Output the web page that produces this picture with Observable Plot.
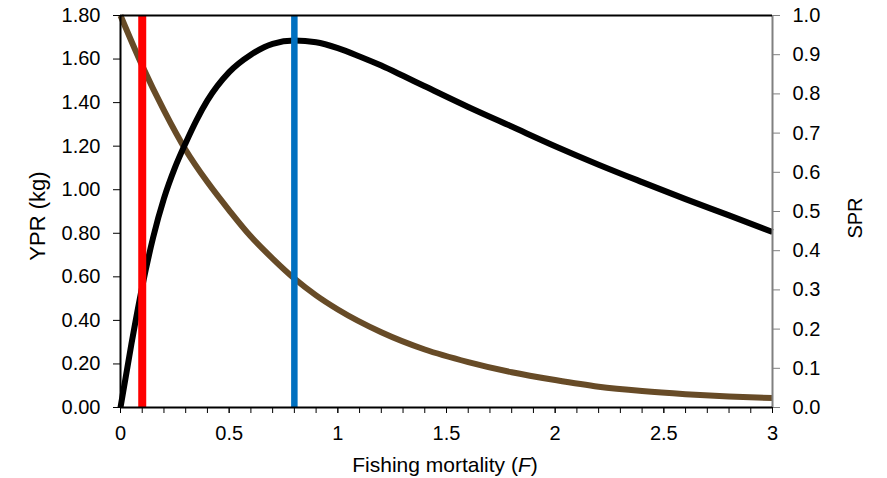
<!DOCTYPE html>
<html>
<head>
<meta charset="utf-8">
<script src="https://cdn.jsdelivr.net/npm/d3@7"></script>
<script src="https://cdn.jsdelivr.net/npm/@observablehq/plot@0.6"></script>
<style>
  html, body { margin: 0; padding: 0; background: #fff; }
  #chart svg { display: block; font-family: "Liberation Sans", Arial, sans-serif; }
</style>
</head>
<body>
<div id="chart"></div>
<script>
// Fishing mortality values for the YPR curve and YPR (kg)
const yprF = [0, 0.05, 0.1, 0.15, 0.2, 0.25, 0.3, 0.35, 0.4, 0.5, 0.6, 0.7, 0.8, 0.9, 1.0, 1.1, 1.2, 1.3, 1.4, 1.6, 1.8, 2.0, 2.2, 2.4, 2.6, 2.8, 3.0];
const yprValues = [0, 0.29, 0.555, 0.78, 0.96, 1.10, 1.215, 1.32, 1.41, 1.54, 1.62, 1.67, 1.685, 1.677, 1.65, 1.612, 1.57, 1.523, 1.475, 1.38, 1.29, 1.20, 1.115, 1.035, 0.957, 0.882, 0.806];
// Fishing mortality values for the SPR curve and SPR
const sprF = [0, 0.1, 0.2, 0.3, 0.4, 0.5, 0.6, 0.7, 0.8, 0.9, 1.0, 1.2, 1.4, 1.6, 1.8, 2.0, 2.2, 2.4, 2.6, 2.8, 3.0];
const sprValues = [1.0, 0.872, 0.758, 0.657, 0.575, 0.503, 0.436, 0.38, 0.329, 0.286, 0.25, 0.192, 0.148, 0.116, 0.09, 0.07, 0.053, 0.042, 0.034, 0.028, 0.024];
// Reference lines (F)
const refRed = [0.1];
const refBlue = [0.8];
// Ticks
const xMinorTicks = d3.range(0, 31).map(i => i / 10);
const xLabelTicks = [0, 0.5, 1, 1.5, 2, 2.5, 3];
const xTickLabels = ["0", "0.5", "1", "1.5", "2", "2.5", "3"];
const yLeftTicks = [0, 0.2, 0.4, 0.6, 0.8, 1.0, 1.2, 1.4, 1.6, 1.8];
const yRightTicks = [0, 0.1, 0.2, 0.3, 0.4, 0.5, 0.6, 0.7, 0.8, 0.9, 1.0];

const YMAX = 1.8; // left axis max; right axis max = 1.0
const ypr = yprF.map((f, i) => ({f, v: yprValues[i]}));
const spr = sprF.map((f, i) => ({f, v: sprValues[i]}));

const plot = Plot.plot({
  width: 887,
  height: 478,
  marginLeft: 120,
  marginRight: 115,
  marginTop: 15,
  marginBottom: 71,
  style: {fontSize: "20px", fontFamily: "'Liberation Sans', Arial, sans-serif", color: "#000", background: "#fff"},
  x: {domain: [0, 3]},
  y: {domain: [0, YMAX]},
  marks: [
    Plot.axisX({ticks: xMinorTicks, tickSize: 6, tickFormat: () => "", stroke: "#000", label: null}),
    Plot.axisX({ticks: xLabelTicks, tickSize: 6, tickPadding: 12, fontSize: 20, tickFormat: d => xTickLabels[xLabelTicks.indexOf(d)], fill: "#000", label: null}),
    Plot.axisY({ticks: yLeftTicks, tickSize: 7, tickPadding: 13, fontSize: 20, tickFormat: d => d.toFixed(2), fill: "#000", label: null}),
    Plot.axisY({anchor: "right", ticks: yRightTicks.map(t => t * YMAX), tickSize: 7, tickPadding: 13, fontSize: 20, stroke: "#808080", fill: "#000",
      tickFormat: d => (d / YMAX).toFixed(1), label: null}),
    Plot.line(spr, {x: "f", y: d => d.v * YMAX, stroke: "#674B27", strokeWidth: 6, strokeLinecap: "butt", curve: "monotone-x"}),
    Plot.line(ypr, {x: "f", y: "v", stroke: "#000", strokeWidth: 6, strokeLinecap: "butt", curve: "monotone-x"}),
    Plot.ruleX(refRed, {stroke: "#FF0000", strokeWidth: 8, y1: 0, y2: YMAX}),
    Plot.ruleX(refBlue, {stroke: "#0070C0", strokeWidth: 6.5, y1: 0, y2: YMAX}),
    Plot.ruleX([3], {stroke: "#808080", strokeWidth: 2}),
    Plot.ruleY([YMAX], {stroke: "#000", strokeWidth: 2}),
    Plot.ruleX([0], {stroke: "#000", strokeWidth: 2}),
    Plot.ruleY([0], {stroke: "#000", strokeWidth: 2})
  ]
});

document.getElementById("chart").appendChild(plot);

const svg = d3.select(plot);
svg.append("text")
  .attr("x", 445).attr("y", 472)
  .attr("text-anchor", "middle")
  .attr("font-size", 21).attr("fill", "#000")
  .call(t => {
    t.append("tspan").text("Fishing mortality (");
    t.append("tspan").attr("font-style", "italic").text("F");
    t.append("tspan").text(")");
  });
svg.append("text")
  .attr("transform", "translate(45,216) rotate(-90)")
  .attr("text-anchor", "middle")
  .attr("font-size", 22).attr("fill", "#000")
  .text("YPR (kg)");
svg.append("text")
  .attr("transform", "translate(862,218) rotate(-90)")
  .attr("text-anchor", "middle")
  .attr("font-size", 20).attr("fill", "#000")
  .text("SPR");
</script>
</body>
</html>
